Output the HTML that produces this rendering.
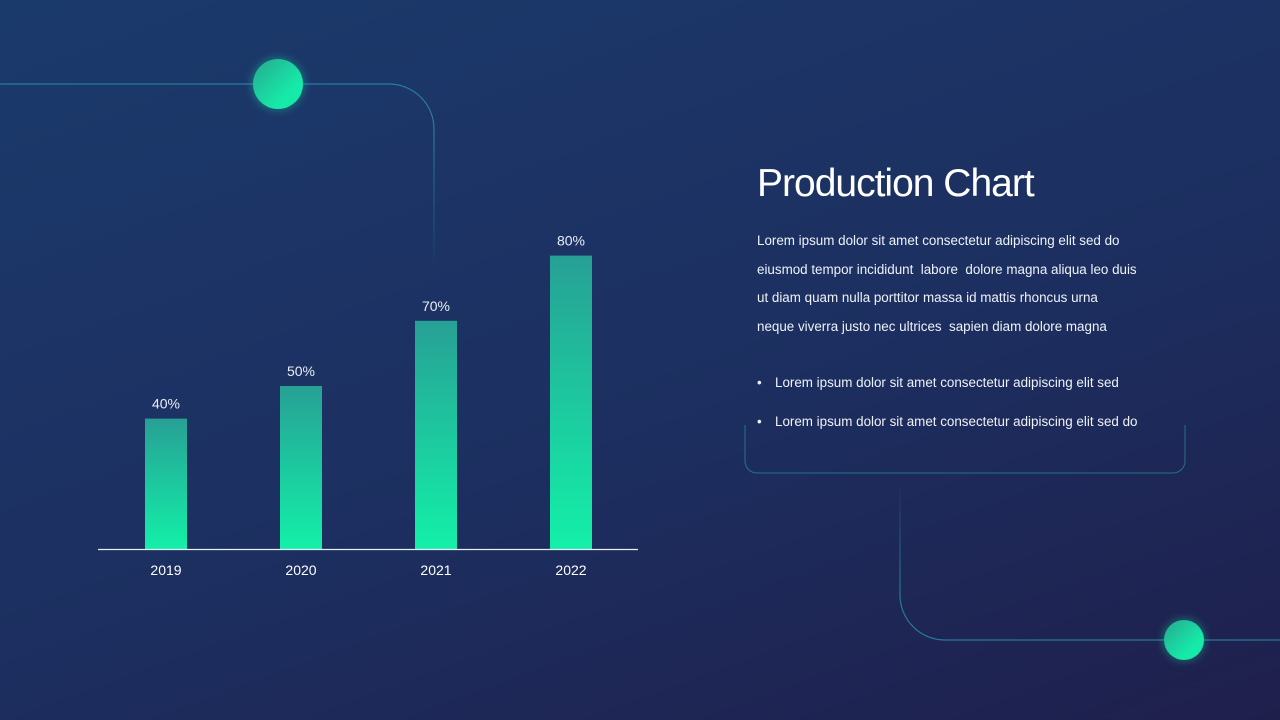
<!DOCTYPE html>
<html><head><meta charset="utf-8"><style>
html,body{margin:0;padding:0}
body{width:1280px;height:720px;overflow:hidden;background:linear-gradient(160deg,#1b3a6c 0%,#1c2f60 55%,#1f1f4c 100%);font-family:"Liberation Sans",sans-serif;position:relative}
svg{position:absolute;left:0;top:0}
.title{position:absolute;left:757px;top:162px;color:#fff;font-size:39px;letter-spacing:-1px;font-weight:normal}
.para{position:absolute;left:757px;top:227px;white-space:nowrap;color:#eef2f8;font-size:13.4px;line-height:28.7px}
.bul{position:absolute;left:757px;color:#eef2f8;font-size:13.4px}
.bul span{display:inline-block;width:18px}
</style></head><body>
<svg width="1280" height="720">
<defs>
<linearGradient id="bg" x1="0" y1="0" x2="0" y2="1"><stop offset="0" stop-color="#27a095"/><stop offset="1" stop-color="#13f0a8"/></linearGradient>
<linearGradient id="cg" x1="0" y1="0" x2="1" y2="1"><stop offset="0" stop-color="#27a890"/><stop offset="0.7" stop-color="#16eaa8"/></linearGradient>
<linearGradient id="fadeTop" gradientUnits="userSpaceOnUse" x1="0" y1="129" x2="0" y2="275"><stop offset="0" stop-color="#2a8fa8"/><stop offset="1" stop-color="#2a8fa8" stop-opacity="0"/></linearGradient>
<linearGradient id="fadeBot" gradientUnits="userSpaceOnUse" x1="0" y1="595" x2="0" y2="480"><stop offset="0" stop-color="#2a8fa8"/><stop offset="1" stop-color="#2a8fa8" stop-opacity="0"/></linearGradient>
<filter id="glow"><feGaussianBlur stdDeviation="4"/></filter>
</defs>
<path d="M0 84 H389 A45 45 0 0 1 434 129" fill="none" stroke="#2a8fa8" stroke-width="1.2" opacity="0.8"/>
<path d="M434 129 V275" fill="none" stroke="url(#fadeTop)" stroke-width="1.2" opacity="0.8"/>
<circle cx="278" cy="84" r="27" fill="#16eaa8" opacity="0.3" filter="url(#glow)"/>
<circle cx="278" cy="84" r="25" fill="url(#cg)"/>
<path d="M745 425 V461 A12 12 0 0 0 757 473 H1173 A12 12 0 0 0 1185 461 V425" fill="none" stroke="#2a8fa8" stroke-width="1" opacity="0.7"/>
<path d="M900 480 V595" fill="none" stroke="url(#fadeBot)" stroke-width="1.2" opacity="0.8"/>
<path d="M900 595 A45 45 0 0 0 945 640 H1280" fill="none" stroke="#2a8fa8" stroke-width="1.2" opacity="0.8"/>
<circle cx="1184" cy="640" r="22" fill="#16eaa8" opacity="0.3" filter="url(#glow)"/>
<circle cx="1184" cy="640" r="20" fill="url(#cg)"/>
<g id="bars"></g>
<line x1="98" y1="549.5" x2="638" y2="549.5" stroke="#e8eef5" stroke-width="1.2"/>
</svg>
<div class="title">Production Chart</div>
<div class="para">Lorem ipsum dolor sit amet consectetur adipiscing elit sed do<br>eiusmod tempor incididunt&nbsp; labore&nbsp; dolore magna aliqua leo duis<br>ut diam quam nulla porttitor massa id mattis rhoncus urna<br>neque viverra justo nec ultrices&nbsp; sapien diam dolore magna</div>
<div class="bul" style="top:375px"><span>•</span>Lorem ipsum dolor sit amet consectetur adipiscing elit sed</div>
<div class="bul" style="top:414px"><span>•</span>Lorem ipsum dolor sit amet consectetur adipiscing elit sed do</div>
<script>
const categories=["2019","2020","2021","2022"];
const values=[40,50,70,90];
const valueLabels=["40%","50%","70%","80%"];
const NS="http://www.w3.org/2000/svg";
const baseY=549,pxPer=3.26,x0=145,step=135,bw=42;
function xPos(i){return x0+i*step;}
function yPos(v){return baseY-v*pxPer;}
const g=document.getElementById("bars");
categories.forEach((c,i)=>{
 const r=document.createElementNS(NS,"rect");
 
 
 r.setAttribute("x",xPos(i));r.setAttribute("y",yPos(values[i]));
 r.setAttribute("width",bw);r.setAttribute("height",baseY-yPos(values[i]));
 r.setAttribute("fill","url(#bg)");g.appendChild(r);
 const t=document.createElementNS(NS,"text");
 
 
 t.setAttribute("x",xPos(i)+bw/2);t.setAttribute("y",yPos(values[i])-10);
 t.setAttribute("text-anchor","middle");t.setAttribute("fill","#e8eef5");
 t.setAttribute("font-size","14");t.setAttribute("font-family","Liberation Sans, sans-serif");
 t.textContent=valueLabels[i];g.appendChild(t);
 const l=document.createElementNS(NS,"text");
 
 
 l.setAttribute("x",xPos(i)+bw/2);l.setAttribute("y",575);
 l.setAttribute("text-anchor","middle");l.setAttribute("fill","#ffffff");
 l.setAttribute("font-size","14");l.setAttribute("font-family","Liberation Sans, sans-serif");
 l.textContent=c;g.appendChild(l);
});
</script>
</body></html>
